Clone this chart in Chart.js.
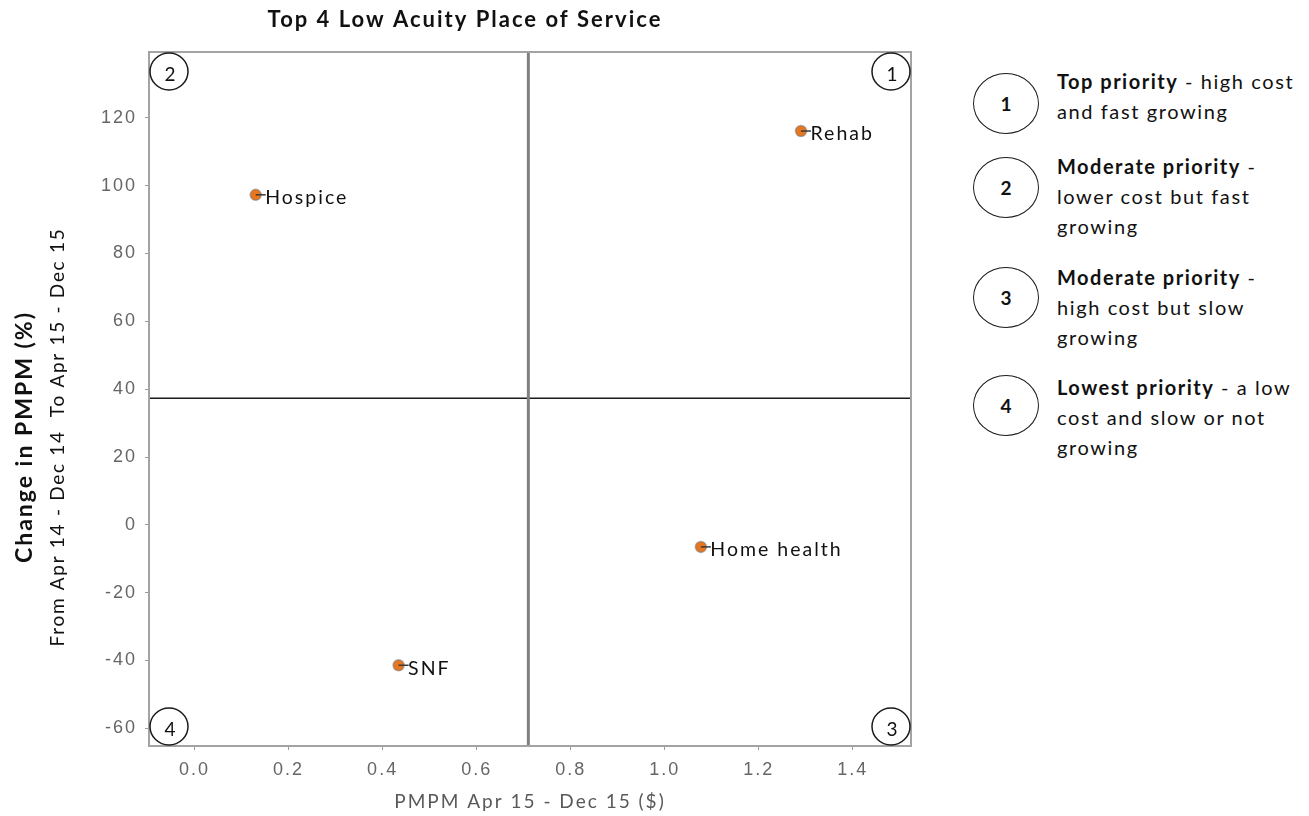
<!DOCTYPE html>
<html>
<head>
<meta charset="utf-8">
<title>Top 4 Low Acuity Place of Service</title>
<script src="https://cdn.jsdelivr.net/npm/chart.js@4.4.1/dist/chart.umd.min.js"></script>
<style>
  html, body { margin: 0; padding: 0; background: #fff; }
  #page { position: relative; width: 1309px; height: 816px; overflow: hidden; font-family: Lato, "Open Sans", sans-serif; }
  #chartBox { position: absolute; left: 0; top: 0; width: 930px; height: 816px; }
  .badge { position: absolute; left: 973px; width: 64px; height: 59px; border: 1.5px solid #1a1a1a; border-radius: 50%;
           display: flex; align-items: center; justify-content: center; font-weight: 700; font-size: 19px; color: #111; }
  .note { position: absolute; left: 1057px; font-size: 20px; line-height: 30px; color: #111; letter-spacing: 1.6px; white-space: nowrap; }
  .note b { font-weight: 700; letter-spacing: 1.5px; }
</style>
</head>
<body>
<div id="page">
  <div id="chartBox"><canvas id="c" width="930" height="816"></canvas></div>
  <div id="legend"></div>
</div>
<script>
// Place-of-service values: PMPM cost (x) and change in PMPM in percent (y)
const services   = ['Hospice', 'Rehab', 'Home health', 'SNF'];
const pmpmCost   = [0.13, 1.29, 1.077, 0.434];
const pmpmChange = [97.3, 116.1, -6.5, -41.4];

// Axis ticks and bounds
const xTickValues = [0, 0.2, 0.4, 0.6, 0.8, 1.0, 1.2, 1.4];
const yTickValues = [-60, -40, -20, 0, 20, 40, 60, 80, 100, 120];
const xBounds = [-0.097, 1.524];
const yBounds = [-65.2, 139.4];

// Quadrant dividers
const costSplit   = 0.71;
const changeSplit = 37.3;

// Texts
const chartTitle = 'Top 4 Low Acuity Place of Service';
const xTitle     = 'PMPM Apr 15 - Dec 15 ($)';
const yTitleMain = 'Change in PMPM (%)';
const yTitleSub  = 'From Apr 14 - Dec 14  To Apr 15 - Dec 15';

// Quadrant key: number, bold heading, remaining lines
const quadrantIds   = ['1', '2', '3', '4'];
const quadrantHeads = ['Top priority', 'Moderate priority', 'Moderate priority', 'Lowest priority'];
const quadrantTails = [' - high cost', ' -', ' -', ' - a low'];
const quadrantLines = [
  ['and fast growing'],
  ['lower cost but fast', 'growing'],
  ['high cost but slow', 'growing'],
  ['cost and slow or not', 'growing']
];

// Key layout (pixel tops of each circle and text block)
const badgeTops = [73, 157, 267, 375];
const noteTops  = [66, 151, 262, 372];

const legend = document.getElementById('legend');
quadrantIds.forEach((id, i) => {
  const b = document.createElement('div');
  b.className = 'badge';
  b.style.top = badgeTops[i] + 'px';
  b.textContent = id;
  legend.appendChild(b);
  const n = document.createElement('div');
  n.className = 'note';
  n.style.top = noteTops[i] + 'px';
  const head = document.createElement('b');
  head.textContent = quadrantHeads[i];
  n.appendChild(head);
  n.appendChild(document.createTextNode(quadrantTails[i]));
  quadrantLines[i].forEach(line => {
    n.appendChild(document.createElement('br'));
    n.appendChild(document.createTextNode(line));
  });
  legend.appendChild(n);
});

// Wider letter spacing for scale ticks, scale titles and the chart title
const textSpacing = {
  id: 'textSpacing',
  beforeDraw(chart) { chart.ctx.letterSpacing = '2px'; },
  beforeDatasetsDraw(chart) { chart.ctx.letterSpacing = '0px'; }
};

// Plot frame, point labels and corner quadrant numbers
const plotDecor = {
  id: 'plotDecor',
  afterDatasetsDraw(chart) {
    const ctx = chart.ctx;
    const a = chart.chartArea;
    ctx.save();
    ctx.letterSpacing = '0px';
    ctx.strokeStyle = '#a3a3a3';
    ctx.lineWidth = 2;
    ctx.strokeRect(a.left, a.top, a.right - a.left, a.bottom - a.top);

    // point labels with a short leader
    const meta = chart.getDatasetMeta(0);
    ctx.font = '19.5px Lato';
    ctx.fillStyle = '#111';
    ctx.textAlign = 'left';
    ctx.textBaseline = 'middle';
    ctx.letterSpacing = '2px';
    meta.data.forEach((el, i) => {
      ctx.strokeStyle = '#3a3a3a';
      ctx.lineWidth = 1.5;
      ctx.beginPath();
      ctx.moveTo(el.x, el.y);
      ctx.lineTo(el.x + 10, el.y);
      ctx.stroke();
      ctx.fillText(services[i], el.x + 9.5, el.y + 3);
    });

    // corner circles: 1 top-right, 2 top-left, 3 bottom-right, 4 bottom-left
    const rx = 20, ry = 19.5;
    const corners = [
      [a.right - rx, a.top + ry],
      [a.left + rx, a.top + ry],
      [a.right - rx, a.bottom - ry],
      [a.left + rx, a.bottom - ry]
    ];
    ctx.letterSpacing = '0px';
    ctx.font = '19px Lato';
    ctx.textAlign = 'center';
    corners.forEach((c, i) => {
      ctx.strokeStyle = '#1a1a1a';
      ctx.lineWidth = 1.5;
      ctx.beginPath();
      ctx.ellipse(c[0], c[1], rx - 1, ry - 1, 0, 0, Math.PI * 2);
      ctx.stroke();
      ctx.fillText(quadrantIds[i], c[0] + 1, c[1] + 3);
    });
    ctx.restore();
  },
  afterDraw(chart) {
    // two-line vertical axis title
    const ctx = chart.ctx;
    const a = chart.chartArea;
    const cy = (a.top + a.bottom) / 2 + 38;
    ctx.save();
    ctx.textAlign = 'center';
    ctx.textBaseline = 'middle';
    ctx.fillStyle = '#111';
    ctx.translate(25, cy);
    ctx.rotate(-Math.PI / 2);
    ctx.letterSpacing = '2px';
    ctx.font = 'bold 23px Lato';
    ctx.fillText(yTitleMain, 0, 0);
    ctx.font = '19px Lato';
    ctx.letterSpacing = '1.7px';
    ctx.fillText(yTitleSub, 0, 33);
    ctx.restore();
  }
};

const tickFont = { family: 'Liberation Sans', size: 18 };

new Chart(document.getElementById('c'), {
  type: 'scatter',
  data: {
    datasets: [
      {
        label: 'Place of service',
        data: services.map((s, i) => ({ x: pmpmCost[i], y: pmpmChange[i] })),
        pointRadius: 5.5,
        pointHoverRadius: 5.5,
        backgroundColor: '#E8761E',
        borderColor: 'rgba(120,120,120,0.55)',
        borderWidth: 1.5
      },
      {
        label: 'Cost split',
        data: [{ x: costSplit, y: yBounds[0] }, { x: costSplit, y: yBounds[1] }],
        showLine: true,
        borderColor: '#808080',
        borderWidth: 3,
        pointRadius: 0
      },
      {
        label: 'Change split',
        data: [{ x: xBounds[0], y: changeSplit }, { x: xBounds[1], y: changeSplit }],
        showLine: true,
        borderColor: '#1a1a1a',
        borderWidth: 1.5,
        pointRadius: 0
      }
    ]
  },
  options: {
    responsive: false,
    animation: false,
    devicePixelRatio: 1,
    layout: { padding: { left: 19, right: 19, top: 0, bottom: 0 } },
    plugins: {
      legend: { display: false },
      tooltip: { enabled: false },
      title: {
        display: true,
        text: chartTitle,
        color: '#111',
        font: { family: 'Lato', size: 22, weight: 'bold' },
        padding: { top: 7, bottom: 18.6 }
      }
    },
    scales: {
      x: {
        type: 'linear',
        min: xBounds[0],
        max: xBounds[1],
        afterBuildTicks: s => { s.ticks = xTickValues.map(v => ({ value: v })); },
        afterFit: s => { s.height = 70; },
        ticks: {
          callback: v => Number(v).toFixed(1),
          font: tickFont,
          color: '#666',
          padding: 9,
          maxRotation: 0,
          autoSkip: false
        },
        grid: { drawOnChartArea: false, drawTicks: true, tickLength: 4, color: '#9a9a9a' },
        border: { display: false },
        title: {
          display: true,
          text: xTitle,
          color: '#595959',
          font: { family: 'Lato', size: 19 },
          padding: { top: 0, bottom: 3 }
        }
      },
      y: {
        type: 'linear',
        min: yBounds[0],
        max: yBounds[1],
        afterBuildTicks: s => { s.ticks = yTickValues.map(v => ({ value: v })); },
        afterFit: s => { s.width = 130; },
        ticks: {
          font: tickFont,
          color: '#666',
          padding: 8,
          autoSkip: false
        },
        grid: { drawOnChartArea: false, drawTicks: true, tickLength: 4, color: '#9a9a9a' },
        border: { display: false }
      }
    }
  },
  plugins: [textSpacing, plotDecor]
});
</script>
</body>
</html>
